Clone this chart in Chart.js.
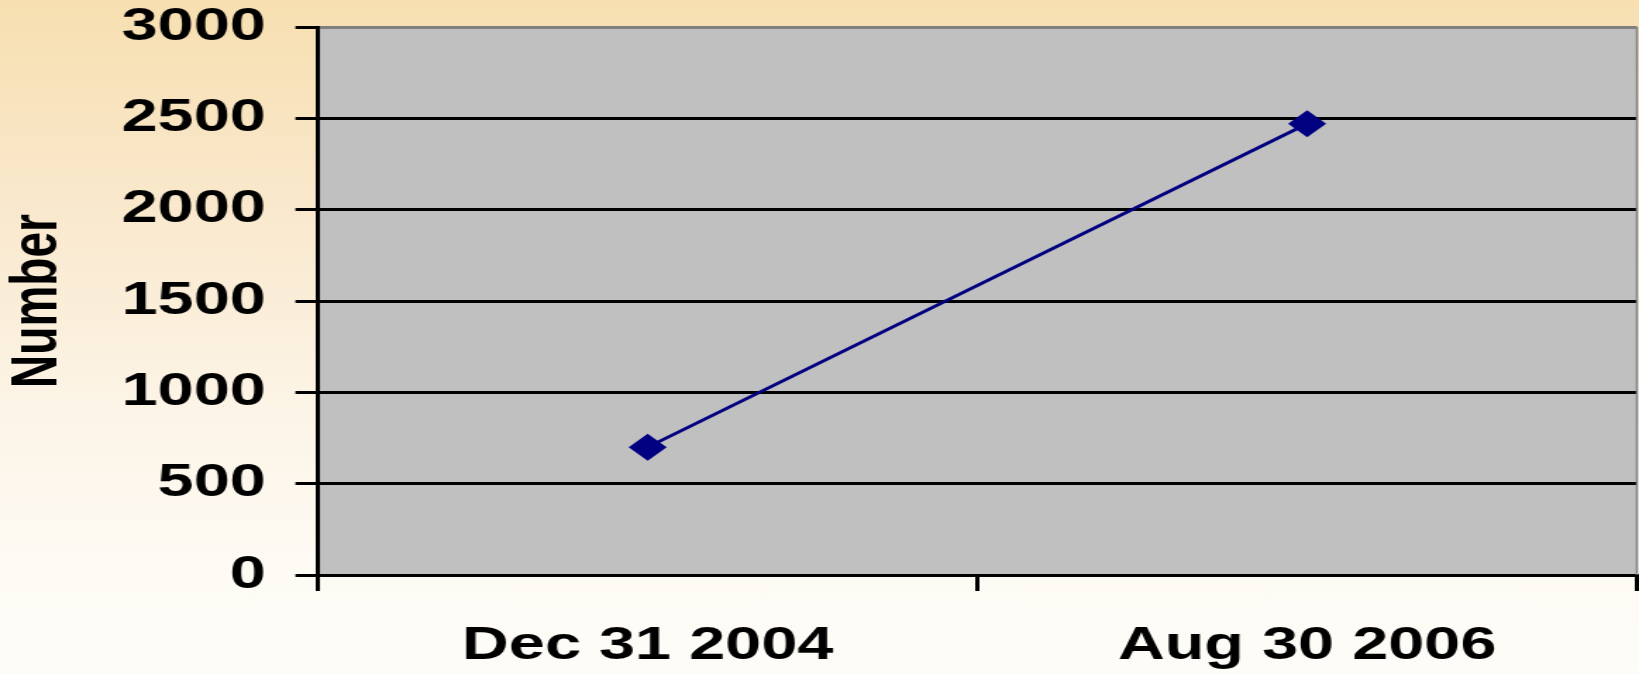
<!DOCTYPE html>
<html>
<head>
<meta charset="utf-8">
<script src="https://cdn.jsdelivr.net/npm/chart.js@4/dist/chart.umd.min.js"></script>
<style>
  html, body { margin: 0; padding: 0; width: 1639px; height: 674px; overflow: hidden; }
  body { background: linear-gradient(to bottom, #f7dfb0 0%, #f9e8cc 30%, #fcf4e6 60%, #fefbf5 85%, #fefcf8 100%); }
  #wrap { width: 1163px; height: 674px; transform: scaleX(1.4093); transform-origin: 0 0; }
</style>
</head>
<body>
<div id="wrap"><canvas id="c" width="1163" height="674" style="width:1163px;height:674px"></canvas></div>
<script>
const categories = ['Dec 31 2004', 'Aug 30 2006'];
const numbers = [700, 2470];
const yTicks = [0, 500, 1000, 1500, 2000, 2500, 3000];
const yTitle = 'Number';

const plotBg = {
  id: 'plotBg',
  beforeDraw(chart) {
    const {ctx, chartArea: a} = chart;
    ctx.save();
    ctx.fillStyle = '#c0c0c0';
    ctx.fillRect(a.left, a.top, a.right - a.left, a.bottom - a.top);
    ctx.restore();
  },
  beforeDatasetsDraw(chart) {
    const {ctx, chartArea: a} = chart;
    ctx.save();
    ctx.strokeStyle = '#808080';
    ctx.lineWidth = 1.5;
    ctx.beginPath();
    ctx.moveTo(a.right, a.top);
    ctx.lineTo(a.right, a.bottom);
    ctx.stroke();
    ctx.restore();
  }
};

const font = { family: '"Liberation Sans", Arial, sans-serif', weight: 'bold', size: 46 };

new Chart(document.getElementById('c'), {
  type: 'line',
  data: {
    labels: categories,
    datasets: [{
      data: numbers,
      borderColor: '#000080',
      borderWidth: 3,
      backgroundColor: '#000080',
      pointStyle: 'rectRot',
      pointRadius: 13.5,
      pointBorderWidth: 0,
      pointBackgroundColor: '#000080',
      tension: 0,
      clip: false
    }]
  },
  options: {
    responsive: false,
    animation: false,
    devicePixelRatio: 1,
    layout: { autoPadding: false, padding: { left: 0, right: 1.5, top: 0, bottom: 0 } },
    plugins: { legend: { display: false }, tooltip: { enabled: false } },
    scales: {
      x: {
        offset: true,
        grid: { offset: true, drawOnChartArea: false, drawTicks: true, tickLength: 16, tickColor: '#000', tickWidth: 3, lineWidth: 3, color: '#000' },
        border: { display: true, color: '#000', width: 3 },
        ticks: { color: '#000', font: font, padding: 28, maxRotation: 0, autoSkip: false },
        afterFit(scale) { scale.height = 99; scale.paddingLeft = 0; scale.paddingRight = 0; }
      },
      y: {
        min: 0, max: 3000,
        afterBuildTicks(scale) { scale.ticks = yTicks.map(v => ({ value: v })); },
        grid: {
          color: c => (c.tick && c.tick.value === 3000) ? '#808080' : '#000',
          lineWidth: 3, tickLength: 16, tickColor: '#000', tickWidth: 3
        },
        border: { display: true, color: '#000', width: 3 },
        ticks: { color: '#000', font: font, padding: 21, callback: v => String(v) },
        title: { display: true, text: yTitle, color: '#000', font: font, padding: 0 },
        afterFit(scale) { scale.width = 225.6; scale.paddingTop = 27; scale.paddingBottom = 0; }
      }
    }
  },
  plugins: [plotBg]
});
</script>
</body>
</html>
